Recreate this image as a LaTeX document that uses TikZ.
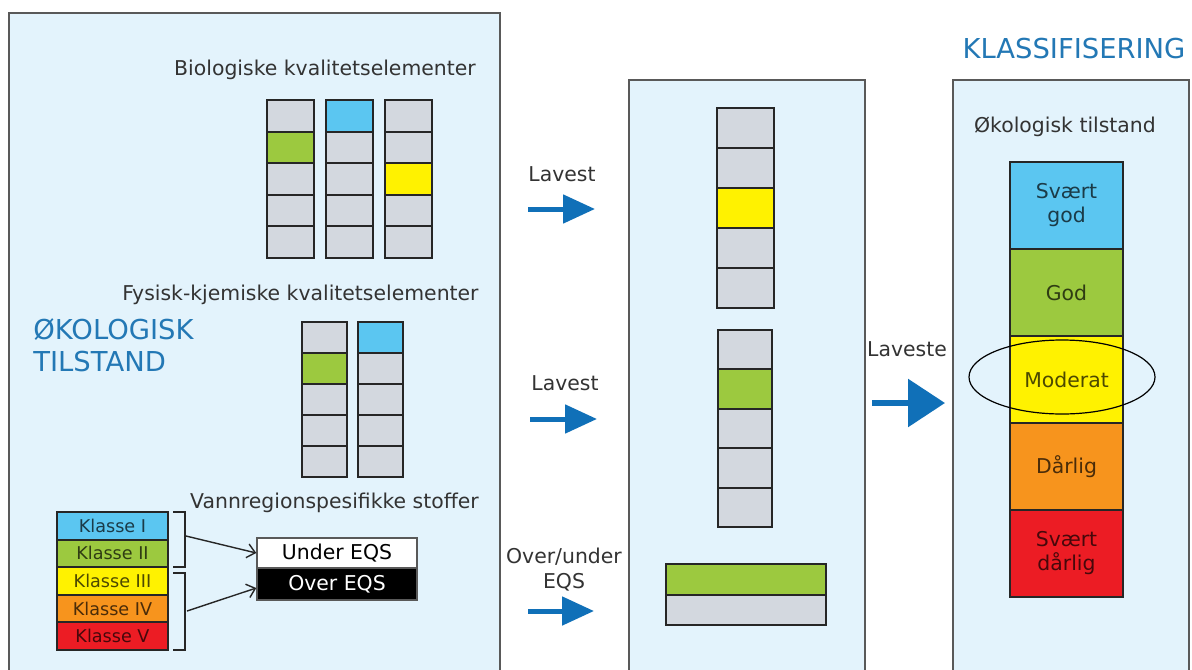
\documentclass[tikz,border=0pt]{standalone}
\usepackage{fontspec}
\setmainfont{DejaVu Sans}
\usetikzlibrary{arrows.meta,shapes.geometric}

\definecolor{panelbg}{HTML}{E3F3FC}
\definecolor{cellgrey}{HTML}{D3D8DF}
\definecolor{kblue}{HTML}{5BC6F1}
\definecolor{kgreen}{HTML}{9CC93F}
\definecolor{kyellow}{HTML}{FFF200}
\definecolor{korange}{HTML}{F7941D}
\definecolor{kred}{HTML}{EC1C24}
\definecolor{titleblue}{HTML}{2378B5}
\definecolor{arrowblue}{HTML}{1070B8}
\definecolor{textgrey}{HTML}{333333}

\begin{document}
\begin{tikzpicture}[x=0.5pt,y=-0.5pt,
  panel/.style={draw=black!65,fill=panelbg,line width=0.7pt},
  cell/.style 2 args={draw=black!85,line width=1pt,inner sep=0pt,minimum width=#1,minimum height=#2},
  lbl/.style={text=textgrey,inner sep=0pt,font=\fontsize{10.2}{12.5}\selectfont},
  title/.style={text=titleblue,inner sep=0pt,font=\fontsize{13.7}{16}\selectfont},
  eqs/.style={draw=black!65,line width=0.7pt,inner sep=0pt,minimum width=80pt,font=\fontsize{10.2}{12}\selectfont},
  bracket/.style={draw=black!85,line width=0.7pt},
  thinarrow/.style={draw=black!85,line width=0.7pt,-{Straight Barb[length=4pt,width=7pt]}},
  bigarrow/.style={draw=arrowblue,line width=2.5pt,-{Triangle[length=16pt,width=14pt]}}]

\clip[use as bounding box] (0,0) rectangle (1192,669);
\fill[white] (0,0) rectangle (1192,669);

% panels
\draw[panel] (9,13) rectangle (500,700);
\draw[panel] (629,80) rectangle (865,700);
\draw[panel] (953,80) rectangle (1189,700);

% left panel
\node[lbl] (bio) at (325,70) {Biologiske kvalitetselementer};
\foreach \c [count=\i] in {cellgrey,kgreen,cellgrey,cellgrey,cellgrey}
  \node[cell={23.5pt}{15.8pt},fill=\c] (bioa\i) at (290.5,{100+31.6*(\i-0.5)}) {};
\foreach \c [count=\i] in {kblue,cellgrey,cellgrey,cellgrey,cellgrey}
  \node[cell={23.5pt}{15.8pt},fill=\c] (biob\i) at (349.5,{100+31.6*(\i-0.5)}) {};
\foreach \c [count=\i] in {cellgrey,cellgrey,kyellow,cellgrey,cellgrey}
  \node[cell={23.5pt}{15.8pt},fill=\c] (bioc\i) at (408.5,{100+31.6*(\i-0.5)}) {};

\node[lbl] (fys) at (300.5,295) {Fysisk-kjemiske kvalitetselementer};
\node[title,align=left,anchor=west] (oko) at (33,345) {ØKOLOGISK\\TILSTAND};
\foreach \c [count=\i] in {cellgrey,kgreen,cellgrey,cellgrey,cellgrey}
  \node[cell={22.5pt}{15.5pt},fill=\c] (fysa\i) at (324.5,{322+31*(\i-0.5)}) {};
\foreach \c [count=\i] in {kblue,cellgrey,cellgrey,cellgrey,cellgrey}
  \node[cell={22.5pt}{15.5pt},fill=\c] (fysb\i) at (380,{322+31*(\i-0.5)}) {};

\node[lbl] (vann) at (334.5,503) {Vannregionspesifikke stoffer};
\foreach \c/\lab [count=\i] in {kblue/I,kgreen/II,kyellow/III,korange/IV,kred/V}
  \node[cell={55.5pt}{13.8pt},fill=\c,text=\c!30!black,font=\fontsize{8.8}{10}\selectfont] (kl\i) at (112.5,{512+27.6*(\i-0.5)}) {Klasse \lab};
\draw[bracket] (173,512) -- (185,512) -- (185,567) -- (173,567);
\draw[bracket] (173,573) -- (185,573) -- (185,650) -- (173,650);
\coordinate (brA) at (186,536);
\coordinate (brB) at (187,611);

\node[eqs,fill=white,text=black,minimum height=15pt] (under) at (337,553) {Under EQS};
\node[eqs,fill=black,text=white,minimum height=16pt] (over) at (337,584) {Over EQS};
\draw[thinarrow] (brA) -- (under.west);
\draw[thinarrow] (brB) -- ([yshift=-2pt]over.west);

% arrows to the middle
\node[lbl] (lav1) at (562,174) {Lavest};
\node[lbl] (lav2) at (565,383) {Lavest};
\node[lbl,align=center] (ou) at (564,570) {Over/under\\EQS};
\coordinate (p1) at (528,209); \coordinate (q1) at (595,209);
\coordinate (p2) at (530,419); \coordinate (q2) at (597,419);
\coordinate (p3) at (528,611); \coordinate (q3) at (594,611);
\draw[bigarrow] (p1) -- (q1);
\draw[bigarrow] (p2) -- (q2);
\draw[bigarrow] (p3) -- (q3);

% middle panel
\foreach \c [count=\i] in {cellgrey,cellgrey,kyellow,cellgrey,cellgrey}
  \node[cell={28.5pt}{20pt},fill=\c] (mida\i) at (745,{108+40*(\i-0.5)}) {};
\foreach \c [count=\i] in {cellgrey,kgreen,cellgrey,cellgrey,cellgrey}
  \node[cell={27pt}{19.7pt},fill=\c] (midb\i) at (745,{330+39.4*(\i-0.5)}) {};
\node[cell={80pt}{15.25pt},fill=kgreen] (bar1) at (746,579.25) {};
\node[cell={80pt}{15.25pt},fill=cellgrey] (bar2) at (746,609.75) {};

% to the class
\node[lbl] (lav3) at (907,349) {Laveste};
\coordinate (p4) at (872,403); \coordinate (q4) at (945,403);
\draw[bigarrow,line width=3pt,-{Triangle[length=18.5pt,width=23.5pt]}] (p4) -- (q4);

% right panel
\node[title] (klass) at (1074,49) {KLASSIFISERING};
\node[lbl] (okt) at (1065,127) {Økologisk tilstand};
\foreach \c/\lab [count=\i] in {kblue/{Svært\\god},kgreen/God,kyellow/Moderat,korange/Dårlig,kred/{Svært\\dårlig}}
  \node[cell={56.5pt}{43.5pt},fill=\c,text=\c!30!black,align=center,font=\fontsize{10.2}{12}\selectfont] (st\i) at (1066.5,{162+87*(\i-0.5)}) {\lab};
\node[draw=black,line width=0.6pt,ellipse,inner sep=0pt,minimum width=93pt,minimum height=37pt] (valgt) at (1062,377) {};

\end{tikzpicture}
\end{document}
